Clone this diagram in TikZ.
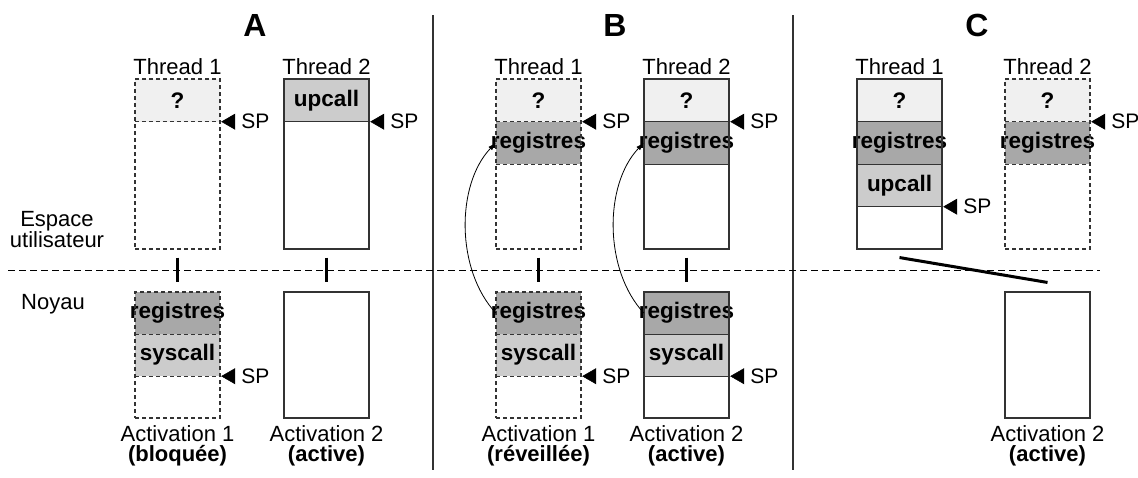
\documentclass[tikz,border=0pt]{standalone}
\usepackage{fontspec}
\setmainfont{Liberation Sans}
\usetikzlibrary{arrows.meta,positioning}

\tikzset{
  line/.style={draw=black!80, line width=1.1pt},
  gone/.style={dash pattern=on 4pt off 3pt},
  ustack/.style={line, minimum width=85pt, minimum height=170pt, inner sep=0pt},
  kstack/.style={line, minimum width=85pt, minimum height=126pt, inner sep=0pt},
  cell/.style={minimum width=85pt, minimum height=42.5pt, inner sep=0pt, font=\fontsize{22.5}{22}\selectfont\bfseries},
  kcell/.style={cell, minimum height=42pt},
  quest/.style={fill=black!6},
  regs/.style={fill=black!34},
  call/.style={fill=black!20},
  txt/.style={font=\fontsize{22}{20}\selectfont, inner sep=0pt},
  title/.style={font=\fontsize{32}{32}\selectfont\bfseries},
  splabel/.style={font=\fontsize{21}{21}\selectfont, inner sep=0pt},
  sptip/.style={-{Triangle[length=14pt,width=16pt]}, line width=0.5pt, shorten <=7pt, shorten >=1pt},
  link/.style={line width=3pt},
  wake/.style={-{Latex[length=8pt,width=5pt]}, line width=0.8pt},
}

\begin{document}
\begin{tikzpicture}[x=1pt, y=-1pt]
  \useasboundingbox (0,0) rectangle (1138,477);

  % separators
  \draw[line] (433,15) -- (433,470);
  \draw[line] (793,15) -- (793,470);
  \draw[line width=1pt, dash pattern=on 7pt off 4pt] (8,270) -- (1100,270);

  \node[title] (ta) at (255,25) {A};
  \node[title] (tb) at (615,25) {B};
  \node[title] (tc) at (977,25) {C};

  \node[txt, align=center, anchor=north] (user) at (57,211) {Espace\\utilisateur};
  \node[txt, anchor=base] (kern) at (53,309) {Noyau};

  % ---- A ----
  \node[cell, quest] (a1q) at (177.5,100.25) {?};
  \draw[line, gone] (a1q.south west) -- (a1q.south east);
  \node[ustack, gone] (a1) at (177.5,164) {};
  \node[txt, above=4pt of a1] (a1t) {Thread 1};
  \node[splabel, right=21pt of a1q.south east] (a1p) {SP};
  \draw[sptip] (a1p.west) -- (a1q.south east);

  \node[cell, call] (a2u) at (326.5,100.25) {upcall};
  \draw[line] (a2u.south west) -- (a2u.south east);
  \node[ustack] (a2) at (326.5,164) {};
  \node[txt, above=4pt of a2] (a2t) {Thread 2};
  \node[splabel, right=21pt of a2u.south east] (a2p) {SP};
  \draw[sptip] (a2p.west) -- (a2u.south east);

  \node[kcell, regs] (ka1r) at (177.5,313) {\makebox[0pt]{registres}};
  \node[kcell, call] (ka1s) at (177.5,355) {syscall};
  \draw[line, gone] (ka1r.south west) -- (ka1r.south east);
  \draw[line, gone] (ka1s.south west) -- (ka1s.south east);
  \node[kstack, gone] (ka1) at (177.5,355) {};
  \node[splabel, right=21pt of ka1s.south east] (ka1p) {SP};
  \draw[sptip] (ka1p.west) -- (ka1s.south east);
  \node[txt, align=center, below=7pt of ka1] (ka1t) {Activation 1\\\textbf{(bloquée)}};

  \node[kstack] (ka2) at (326.5,355) {};
  \node[txt, align=center, below=7pt of ka2] (ka2t) {Activation 2\\\textbf{(active)}};

  \draw[link, shorten <=8pt, shorten >=9pt] (a1) -- (ka1);
  \draw[link, shorten <=8pt, shorten >=9pt] (a2) -- (ka2);

  % ---- B ----
  \node[cell, quest] (b1q) at (538.5,100.25) {?};
  \node[cell, regs] (b1r) at (538.5,142.75) {\makebox[0pt]{registres}};
  \draw[line, gone] (b1q.south west) -- (b1q.south east);
  \draw[line, gone] (b1r.south west) -- (b1r.south east);
  \node[ustack, gone] (b1) at (538.5,164) {};
  \node[txt, above=4pt of b1] (b1t) {Thread 1};
  \node[splabel, right=21pt of b1q.south east] (b1p) {SP};
  \draw[sptip] (b1p.west) -- (b1q.south east);

  \node[cell, quest] (b2q) at (686.5,100.25) {?};
  \node[cell, regs] (b2r) at (686.5,142.75) {\makebox[0pt]{registres}};
  \draw[line] (b2q.south west) -- (b2q.south east);
  \draw[line] (b2r.south west) -- (b2r.south east);
  \node[ustack] (b2) at (686.5,164) {};
  \node[txt, above=4pt of b2] (b2t) {Thread 2};
  \node[splabel, right=21pt of b2q.south east] (b2p) {SP};
  \draw[sptip] (b2p.west) -- (b2q.south east);

  \node[kcell, regs] (kb1r) at (538.5,313) {\makebox[0pt]{registres}};
  \node[kcell, call] (kb1s) at (538.5,355) {syscall};
  \draw[line, gone] (kb1r.south west) -- (kb1r.south east);
  \draw[line, gone] (kb1s.south west) -- (kb1s.south east);
  \node[kstack, gone] (kb1) at (538.5,355) {};
  \node[splabel, right=21pt of kb1s.south east] (kb1p) {SP};
  \draw[sptip] (kb1p.west) -- (kb1s.south east);
  \node[txt, align=center, below=7pt of kb1] (kb1t) {Activation 1\\\textbf{(réveillée)}};

  \node[kcell, regs] (kb2r) at (686.5,313) {\makebox[0pt]{registres}};
  \node[kcell, call] (kb2s) at (686.5,355) {syscall};
  \draw[line] (kb2r.south west) -- (kb2r.south east);
  \draw[line] (kb2s.south west) -- (kb2s.south east);
  \node[kstack] (kb2) at (686.5,355) {};
  \node[splabel, right=21pt of kb2s.south east] (kb2p) {SP};
  \draw[sptip] (kb2p.west) -- (kb2s.south east);
  \node[txt, align=center, below=7pt of kb2] (kb2t) {Activation 2\\\textbf{(active)}};

  \draw[link, shorten <=8pt, shorten >=9pt] (b1) -- (kb1);
  \draw[link, shorten <=8pt, shorten >=9pt] (b2) -- (kb2);
  \draw[wake] (kb1r.west) .. controls +(-40,-43) and +(-40,42) .. (b1r.west);
  \draw[wake] (kb2r.west) .. controls +(-40,-43) and +(-40,42) .. (b2r.west);

  % ---- C ----
  \node[cell, quest] (c1q) at (899.5,100.25) {?};
  \node[cell, regs] (c1r) at (899.5,142.75) {\makebox[0pt]{registres}};
  \node[cell, call] (c1u) at (899.5,185.25) {upcall};
  \draw[line] (c1q.south west) -- (c1q.south east);
  \draw[line] (c1r.south west) -- (c1r.south east);
  \draw[line] (c1u.south west) -- (c1u.south east);
  \node[ustack] (c1) at (899.5,164) {};
  \node[txt, above=4pt of c1] (c1t) {Thread 1};
  \node[splabel, right=21pt of c1u.south east] (c1p) {SP};
  \draw[sptip] (c1p.west) -- (c1u.south east);

  \node[cell, quest] (c2q) at (1047.5,100.25) {?};
  \node[cell, regs] (c2r) at (1047.5,142.75) {\makebox[0pt]{registres}};
  \draw[line, gone] (c2q.south west) -- (c2q.south east);
  \draw[line, gone] (c2r.south west) -- (c2r.south east);
  \node[ustack, gone] (c2) at (1047.5,164) {};
  \node[txt, above=4pt of c2] (c2t) {Thread 2};
  \node[splabel, right=21pt of c2q.south east] (c2p) {SP};
  \draw[sptip] (c2p.west) -- (c2q.south east);

  \node[kstack] (kc2) at (1047.5,355) {};
  \node[txt, align=center, below=7pt of kc2] (kc2t) {Activation 2\\\textbf{(active)}};

  \draw[link] ([yshift=-8pt]c1.south) -- ([yshift=9pt]kc2.north);
\end{tikzpicture}
\end{document}
